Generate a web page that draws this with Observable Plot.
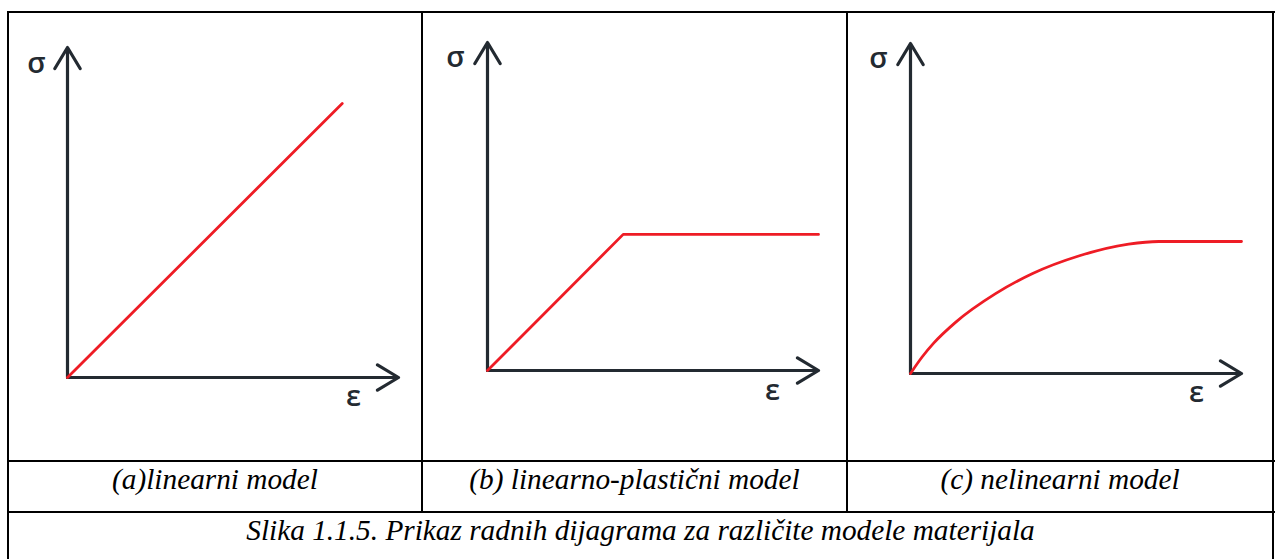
<!DOCTYPE html>
<html><head><meta charset="utf-8">
<script src="https://cdn.jsdelivr.net/npm/d3@7"></script>
<script src="https://cdn.jsdelivr.net/npm/@observablehq/plot@0.6"></script>
<style>
body{margin:0;background:#fff;}
#page{position:relative;width:1278px;height:559px;overflow:hidden;background:#fff;}
.ln{position:absolute;background:#000;}
.panel{position:absolute;top:12px;}
.panel svg{background:transparent;overflow:visible;}
.cap{position:absolute;font-family:"Liberation Serif","Times New Roman",serif;font-style:italic;font-size:29.3px;color:#000;text-align:center;white-space:nowrap;line-height:1;}
</style></head><body><div id="page"></div>
<script>
// ---- data ----
const panelNames = ["(a)linearni model", "(b) linearno-plastični model", "(c) nelinearni model"];
const figureCaption = "Slika 1.1.5. Prikaz radnih dijagrama za različite modele materijala";
const stressLabel = "σ";
const strainLabel = "ε";
const axisDomain = [0, 1];
// (a) linear model
const strainA = [0, 0.83];
const stressA = [0, 0.83];
// (b) linear-plastic model
const strainB = [0, 0.41, 1.0];
const stressB = [0, 0.415, 0.415];
// (c) nonlinear model
const strainC = [0, 0.035, 0.07, 0.136, 0.257, 0.369, 0.508, 0.659, 0.75, 1.0];
const stressC = [0, 0.05, 0.092, 0.155, 0.242, 0.303, 0.356, 0.392, 0.40, 0.40];

const seriesStrain = [strainA, strainB, strainC];
const seriesStress = [stressA, stressB, stressC];

// ---- layout ----
const layout = [
  {left: 8,   width: 414, ml: 59, mr: 24, mt: 35, mb: 84, sdx: -31, sdy: 16, edx: -45, edy: 19, curve: "linear"},
  {left: 422, width: 425, ml: 65, mr: 29, mt: 30, mb: 91, sdx: -32, sdy: 15, edx: -46, edy: 20, curve: "linear"},
  {left: 847, width: 426, ml: 63, mr: 32, mt: 31, mb: 88, sdx: -32, sdy: 15, edx: -45, edy: 19, curve: "monotone-x"}
];
const panelHeight = 449;
const axisColor = "#232a31";
const curveColor = "#ee1c25";
const labelFont = "'Open Sans', sans-serif";

const page = document.getElementById("page");

layout.forEach((L, k) => {
  const xs = seriesStrain[k], ys = seriesStress[k];
  const chart = Plot.plot({
    width: L.width,
    height: panelHeight,
    marginLeft: L.ml, marginRight: L.mr, marginTop: L.mt, marginBottom: L.mb,
    x: {domain: axisDomain, axis: null},
    y: {domain: axisDomain, axis: null},
    style: {background: "transparent", overflow: "visible"},
    marks: [
      Plot.arrow([0], {x1: axisDomain[0], y1: axisDomain[0], x2: axisDomain[1], y2: axisDomain[0],
        stroke: axisColor, strokeWidth: 3.2, headLength: 11.5, headAngle: 62, strokeLinecap: "round", strokeLinejoin: "round"}),
      Plot.arrow([0], {x1: axisDomain[0], y1: axisDomain[0], x2: axisDomain[0], y2: axisDomain[1],
        stroke: axisColor, strokeWidth: 3.2, headLength: 11.5, headAngle: 62, strokeLinecap: "round", strokeLinejoin: "round"}),
      Plot.line(d3.range(xs.length), {x: xs, y: ys, stroke: curveColor, strokeWidth: 2.8, curve: L.curve}),
      Plot.text([stressLabel], {frameAnchor: "top-left", textAnchor: "middle", lineAnchor: "middle", dx: L.sdx, dy: L.sdy, text: d => d,
        fontSize: 29, fontWeight: 600, fontFamily: labelFont, fill: axisColor}),
      Plot.text([strainLabel], {frameAnchor: "bottom-right", textAnchor: "middle", lineAnchor: "middle", dx: L.edx, dy: L.edy, text: d => d,
        fontSize: 29, fontWeight: 600, fontFamily: labelFont, fill: axisColor})
    ]
  });
  const div = document.createElement("div");
  div.className = "panel";
  div.style.left = L.left + "px";
  div.appendChild(chart);
  page.appendChild(div);

  const cap = document.createElement("div");
  cap.className = "cap";
  cap.style.left = L.left + "px";
  cap.style.width = L.width + "px";
  cap.style.top = "465px";
  cap.textContent = panelNames[k];
  page.appendChild(cap);
});

const fig = document.createElement("div");
fig.className = "cap";
fig.style.left = "8px";
fig.style.width = "1265px";
fig.style.top = "516px";
fig.textContent = figureCaption;
page.appendChild(fig);

// table rules
function rule(l, t, w, h) {
  const d = document.createElement("div");
  d.className = "ln";
  Object.assign(d.style, {left: l + "px", top: t + "px", width: w + "px", height: h + "px"});
  page.appendChild(d);
}
rule(7, 11, 1268, 2);     // top
rule(7, 11, 2, 548);      // left
rule(1272, 11, 2, 548);   // right
rule(7, 460, 1268, 2);    // row 1
rule(7, 511, 1268, 2);    // row 2
rule(421, 11, 2, 501);    // col divider 1
rule(846, 11, 2, 501);    // col divider 2
</script></body></html>
